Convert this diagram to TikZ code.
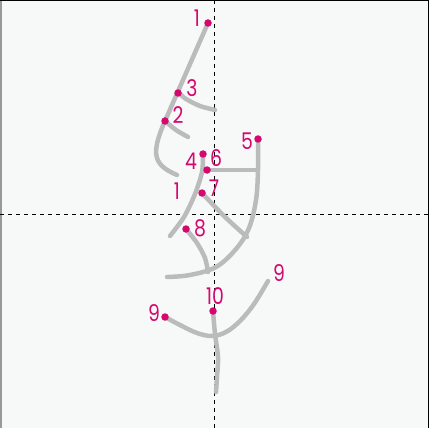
\documentclass[tikz,border=0pt]{standalone}
\usepackage{fontspec}
\setmainfont{Poppins}
\newfontfamily\numfont[FakeStretch=0.82]{Poppins}
\usetikzlibrary{positioning}
\definecolor{strokegray}{HTML}{BBBBBB}
\definecolor{numpink}{HTML}{D4086E}
\definecolor{paper}{HTML}{F7F9F9}
\tikzset{kstroke/.style={draw=strokegray, line width=4.5pt, line cap=round, line join=round}}
\tikzset{snum/.style={text=numpink, font=\numfont\fontsize{23}{23}\selectfont, inner sep=0pt}}
\tikzset{sdot/.style={circle, fill=numpink, inner sep=0pt, minimum size=7.5pt}}
\tikzset{guide/.style={draw=black, line width=0.8pt, dash pattern=on 4pt off 4pt}}

\begin{document}
\begin{tikzpicture}[x=1pt,y=-1pt]
		\fill[paper] (0,0) rectangle (429,428);
		\useasboundingbox (0,0) rectangle (429,428);
		\draw[black!40, line width=2pt] (1,0) -- (1,428);
		\draw[line width=1.5pt] (0,0.75) -- (429,0.75);
		\draw[line width=1.5pt] (428.25,0) -- (428.25,428);
		
		% guides
		\coordinate (gl) at (0,214);
		\coordinate (gr) at (429,214);
		\coordinate (gt) at (214,0);
		\coordinate (gb) at (214,428);
		\draw[guide] (gl) -- (gr);
		\draw[guide] (gt) -- (gb);
		
		% strokes
		\draw[kstroke] (208,23) -- (165,121) .. controls (150,155) and (154,165) .. (177,175);
		\draw[kstroke] plot[smooth] coordinates {(165,121) (176,130) (188,137)};
		\draw[kstroke] plot[smooth] coordinates {(179,93) (186,99) (200,106) (215,110)};
		\draw[kstroke] plot[smooth] coordinates {(203,154) (202,172) (195,194) (184,217) (170,236)};
		\draw[kstroke] plot[smooth, tension=0.6] coordinates {(258,139) (258,170) (256,200) (249,228) (236,249) (216,267) (190,275) (167,277)};
		\draw[kstroke] (207,170) -- (257,170);
		\draw[kstroke] plot[smooth] coordinates {(202,193) (224,216) (247,237)};
		\draw[kstroke] plot[smooth] coordinates {(186,229) (197,243) (205,258) (208,272)};
		\draw[kstroke] plot[smooth, tension=0.6] coordinates {(165,317) (180,325) (197,333) (212,336) (226,332) (240,321) (254,304) (268,281)};
		\draw[kstroke] plot[smooth] coordinates {(213,311) (215,334) (218,357) (217,377) (216,392)};
		
		% start dots
		\node[sdot] (d1) at (208,23) {};
		\node[sdot] (d2) at (165,121) {};
		\node[sdot] (d3) at (178,93) {};
		\node[sdot] (d4) at (203,154) {};
		\node[sdot] (d5) at (258,139) {};
		\node[sdot] (d6) at (207,170) {};
		\node[sdot] (d7) at (202,193) {};
		\node[sdot] (d8) at (186,229) {};
		\node[sdot] (d9) at (165,317) {};
		\node[sdot] (d10) at (213,311) {};
		
		% numbers
		\node[snum] (n1) at (197,18) {1};
		\node[snum] (n3) at (192,88) {3};
		\node[snum] (n2) at (178,115) {2};
		\node[snum] (n5) at (247,141) {5};
		\node[snum] (n4) at (191,161) {4};
		\node[snum] (n6) at (216,158) {6};
		\node[snum] (n7) at (214,188) {7};
		\node[snum] (n1b) at (177,191) {1};
		\node[snum] (n8) at (200,228) {8};
		\node[snum] (n9a) at (279,273) {9};
		\node[snum] (n10) at (215,296) {10};
		\node[snum] (n9b) at (154,313) {9};
	\end{tikzpicture}
\end{document}
